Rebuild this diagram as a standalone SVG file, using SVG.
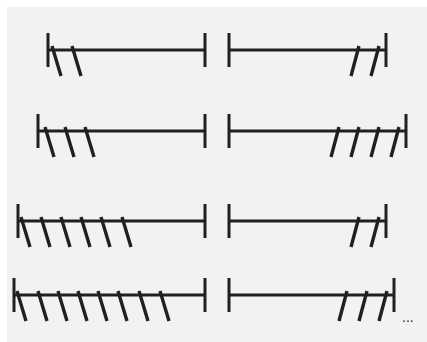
<svg xmlns="http://www.w3.org/2000/svg" width="427" height="342" viewBox="0 0 427 342">
<style>
.l{stroke:#231f20;stroke-width:3;fill:none}
.d{stroke:#231f20;stroke-width:3.4;fill:none}
.t{font-family:"Liberation Sans",sans-serif;font-size:14px;fill:#231f20}
</style>
<rect x="7" y="7" width="420" height="335" fill="#f1f2f4"/>
<g id="row1">
<path class="l" d="M48,33V67M48,50H205M205,33V67M229,33V67M229,50H386M386,33V67"/>
<path class="d" d="M52,46l9,30M72,46l9,30M359,46l-8,30M379,46l-8,30"/>
</g>
<g id="row2">
<path class="l" d="M38,114V148M38,131H205M205,114V148M229,114V148M229,131H406M406,114V148"/>
<path class="d" d="M45,127l9,30M65,127l9,30M85,127l9,30M339,127l-8,30M359,127l-8,30M379,127l-8,30M399,127l-8,30"/>
</g>
<g id="row3">
<path class="l" d="M18,204V238M18,221H205M205,204V238M229,204V238M229,221H386M386,204V238"/>
<path class="d" d="M21,217l9,30M41,217l9,30M61,217l9,30M81,217l9,30M101,217l9,30M122,217l9,30M359,217l-8,30M379,217l-8,30"/>
</g>
<g id="row4">
<path class="l" d="M14,278V312M14,295H205M205,278V312M229,278V312M229,295H394M394,278V312"/>
<path class="d" d="M17,291l9,30M38,291l9,30M58,291l9,30M78,291l9,30M98,291l9,30M118,291l9,30M139,291l9,30M160,291l9,30M347,291l-8,30M367,291l-8,30M387,291l-8,30"/>
<text class="t" x="402" y="322">...</text>
</g>
</svg>
